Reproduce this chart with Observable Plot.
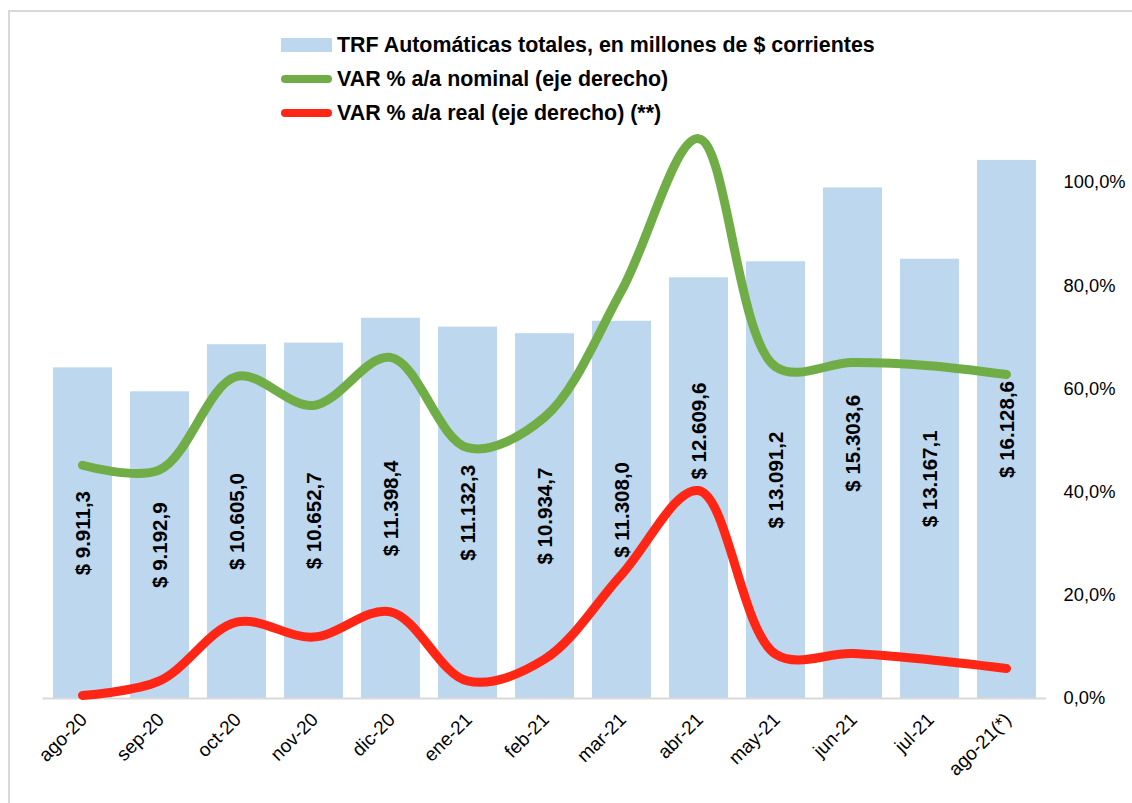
<!DOCTYPE html>
<html>
<head>
<meta charset="utf-8">
<script src="https://cdn.jsdelivr.net/npm/d3@7"></script>
<script src="https://cdn.jsdelivr.net/npm/@observablehq/plot@0.6"></script>
<style>
  html, body { margin: 0; padding: 0; background: #fff; }
  #wrap { position: relative; width: 1132px; height: 803px; overflow: hidden; font-family: "Liberation Sans", Arial, sans-serif; }
  #frame { position: absolute; left: 8px; top: 10px; width: 1300px; height: 1000px; border: 2px solid #d9d9d9; box-sizing: border-box; }
  .layer { position: absolute; left: 0; top: 0; }
  .leg { position: absolute; left: 281px; height: 34px; display: flex; align-items: center; font-weight: bold; font-size: 21.4px; color: #000; white-space: nowrap; }
  .sw-bar { width: 51px; height: 14px; margin-right: 5px; }
  .sw-line { width: 51px; height: 8px; border-radius: 4px; margin-right: 5px; }
</style>
</head>
<body>
<div id="wrap">
  <div id="frame"></div>
  <div id="bars" class="layer"></div>
  <div id="lines" class="layer"></div>
  <div id="legend"></div>
</div>
<script>
// ---- Data ----
const months = ["ago-20","sep-20","oct-20","nov-20","dic-20","ene-21","feb-21","mar-21","abr-21","may-21","jun-21","jul-21","ago-21(*)"];
const trf = [9911.3, 9192.9, 10605.0, 10652.7, 11398.4, 11132.3, 10934.7, 11308.0, 12609.6, 13091.2, 15303.6, 13167.1, 16128.6];
const varNominal = [45.2, 44.3, 62.4, 56.8, 66.1, 48.6, 54.5, 79.0, 108.5, 64.3, 65.1, 64.5, 62.8];
const varReal = [0.6, 3.4, 14.8, 11.9, 16.8, 3.4, 7.6, 24.0, 40.3, 8.6, 8.7, 7.5, 5.8];
const pctTicks = [0, 20, 40, 60, 80, 100];
const seriesNames = [
  "TRF Automáticas totales, en millones de $ corrientes",
  "VAR % a/a nominal (eje derecho)",
  "VAR % a/a real (eje derecho) (**)"
];
const colors = { bar: "#BDD7EE", nominal: "#70AD47", real: "#FF2616" };

// ---- Helpers ----
function fmtMoney(v) {
  const [i, d] = v.toFixed(1).split(".");
  return "$ " + i.replace(/\B(?=(\d{3})+(?!\d))/g, ".") + "," + d;
}
const fmtPct = d => d.toFixed(1).replace(".", ",") + "%";
// label manually lifted in the original to clear the red line (style, pixels)
const labelNudge = { "abr-21": -57 };

const barData = months.map((m, i) => ({ month: m, trf: trf[i] }));
const nomData = months.map((m, i) => ({ month: m, v: varNominal[i] }));
const realData = months.map((m, i) => ({ month: m, v: varReal[i] }));

const W = 1132, H = 803;
const margins = { marginTop: 78.8, marginBottom: 105, marginLeft: 42.5, marginRight: 85.9 };
const xOpts = { domain: months, paddingInner: 0.236, paddingOuter: 0.118 };
const baseStyle = { fontFamily: "'Liberation Sans', Arial, sans-serif", background: "transparent", color: "#000", overflow: "visible" };

const labelOpts = { x: "month", y: d => d.trf / 2, text: d => fmtMoney(d.trf), rotate: -90, fontWeight: "bold", fontSize: 20.5, fill: "#000" };

// ---- Layer 1: bars (primary axis, hidden) ----
const barsPlot = Plot.plot({
  width: W, height: H, ...margins,
  style: { ...baseStyle, fontSize: "19px" },
  x: { ...xOpts, label: null },
  y: { domain: [0, 18560], axis: null },
  marks: [
    Plot.barY(barData, { x: "month", y: "trf", fill: colors.bar }),
    Plot.ruleY([0], { stroke: "#d9d9d9", strokeWidth: 2 }),
    Plot.text(barData.filter(d => !(d.month in labelNudge)), labelOpts),
    ...Object.entries(labelNudge).map(([m, dy]) =>
      Plot.text(barData.filter(d => d.month === m), { ...labelOpts, dy })),
    Plot.axisX({ tickRotate: -45, tickSize: 0, tickPadding: 18, dx: 1, fontSize: 19, label: null, fill: "#000" })
  ]
});
document.getElementById("bars").appendChild(barsPlot);

// ---- Layer 2: lines (secondary axis, right) ----
const linesPlot = Plot.plot({
  width: W, height: H, ...margins,
  style: { ...baseStyle, fontSize: "18.3px" },
  x: { ...xOpts, axis: null },
  y: { domain: [0, 120], axis: null },
  marks: [
    Plot.axisY({ anchor: "right", ticks: pctTicks, tickSize: 0, tickPadding: 17, tickFormat: fmtPct, label: null, fontSize: 18.3, fill: "#000" }),
    Plot.line(nomData, { x: "month", y: "v", stroke: colors.nominal, strokeWidth: 9, curve: "catmull-rom", strokeLinecap: "round", strokeLinejoin: "round" }),
    Plot.line(realData, { x: "month", y: "v", stroke: colors.real, strokeWidth: 9, curve: "catmull-rom", strokeLinecap: "round", strokeLinejoin: "round" })
  ]
});
document.getElementById("lines").appendChild(linesPlot);

// ---- Legend ----
const legend = document.getElementById("legend");
const legendItems = [
  { name: seriesNames[0], type: "bar", color: colors.bar, cy: 45 },
  { name: seriesNames[1], type: "line", color: colors.nominal, cy: 79 },
  { name: seriesNames[2], type: "line", color: colors.real, cy: 113 }
];
legendItems.forEach(it => {
  const row = document.createElement("div");
  row.className = "leg";
  row.style.top = (it.cy - 17) + "px";
  const sw = document.createElement("div");
  sw.className = it.type === "bar" ? "sw-bar" : "sw-line";
  sw.style.background = it.color;
  const tx = document.createElement("span");
  tx.textContent = it.name;
  row.appendChild(sw);
  row.appendChild(tx);
  legend.appendChild(row);
});
</script>
</body>
</html>
